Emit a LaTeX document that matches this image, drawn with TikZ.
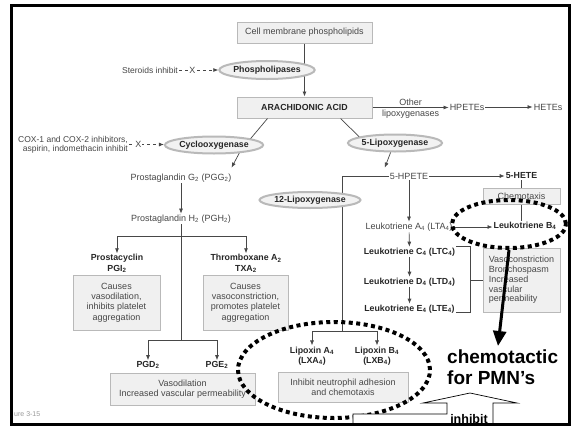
\documentclass[tikz,border=0pt]{standalone}
\usepackage{fontspec}
\setmainfont{Liberation Sans}
\usetikzlibrary{shapes.geometric,arrows.meta}
\newcommand{\sbs}[1]{\textsubscript{#1}}
\begin{document}
\begin{tikzpicture}[x=1pt,y=-1pt,
  txt/.style={font=\fontsize{9}{10}\selectfont, text=black!72, inner sep=1pt, align=center},
  btxt/.style={font=\fontsize{8.8}{10.5}\selectfont\bfseries, text=black!85, inner sep=1pt, align=center},
  box/.style={draw=gray!55, fill=gray!12, line width=1pt, inner sep=1pt, align=center, font=\fontsize{9}{10.3}\selectfont, text=black!72},
  enz/.style={ellipse, draw=gray!55, fill=gray!10, line width=2pt, inner sep=0pt, font=\fontsize{8.8}{10}\selectfont\bfseries, text=black!85},
  con/.style={draw=black!72, line width=0.7pt},
  arr/.style={con, -{Latex[length=5pt,width=4pt]}},
  xmark/.style={fill=white, inner sep=0.3pt, font=\fontsize{9}{10}\selectfont, text=black!72},
  ring/.style={ellipse, draw=black, line width=4pt, dash pattern=on 4pt off 3.5pt, inner sep=0pt},
]
\useasboundingbox (0,0) rectangle (571,426);
\fill[white] (0,0) rectangle (571,426);

% ---- top chain
\node[box, minimum width=135, minimum height=21] (cell) at (304.5,32.5) {Cell membrane phospholipids};
\node[box, minimum width=135, minimum height=21, font=\fontsize{8.8}{10}\selectfont\bfseries, text=black!85] (aa) at (304.5,107.5) {ARACHIDONIC ACID};
\draw[arr] (cell) -- (aa);
\node[enz, minimum width=90, minimum height=18] (phos) at (267,70) {Phospholipases};
\node[txt, font=\fontsize{8.5}{10}\selectfont] (ster) at (150,70) {Steroids inhibit};
\draw[arr, dashed] (ster.east) -- node[xmark, pos=0.34] (x1) {X} (ster.east -| phos.west);

% ---- other lipoxygenases
\node[txt] (hpetes) at (467,107) {HPETEs};
\node[txt] (hetes) at (548,107) {HETEs};
\draw[arr] (aa.east) -- node[txt, above=1pt] (oth) {Other} node[txt, below=1pt] (lipo) {lipoxygenases} (aa.east -| hpetes.west);
\draw[arr] (hpetes) -- (hetes);

% ---- cyclooxygenase branch
\node[enz, minimum width=88, minimum height=17] (cox) at (214,145) {Cyclooxygenase};
\draw[con] ([xshift=31pt]aa.south west) -- (cox.10);
\node[txt, align=right, font=\fontsize{8.5}{8.8}\selectfont] (coxinh) at (73,144.5) {COX-1 and COX-2 inhibitors,\\aspirin, indomethacin inhibit};
\draw[arr, dashed] (coxinh.east) -- node[xmark, pos=0.27] (x2) {X} (coxinh.east -| cox.west);
\node[txt] (pgg2) at (181,178) {Prostaglandin G\sbs{2} (PGG\sbs{2})};
\node[txt] (pgh2) at (181,219) {Prostaglandin H\sbs{2} (PGH\sbs{2})};
\draw[arr] (cox.-18) -- ([xshift=-1pt,yshift=5pt]pgg2.north east);
\draw[arr] (pgg2) -- (pgh2);
\node[btxt] (pgi) at (117,263.5) {Prostacyclin\\PGI\sbs{2}};
\node[btxt] (txa) at (246,263.5) {Thromboxane A\sbs{2}\\TXA\sbs{2}};
\coordinate (j1) at (181,236);
\coordinate (j2) at (181,340);
\draw[con] (pgh2.south) -- (j2);
\draw[arr] (j1) -| (pgi.north);
\draw[arr] (j1) -| (txa.north);
\node[box, minimum width=87, minimum height=55] (b1) at (116.5,302.5) {Causes\\vasodilation,\\inhibits platelet\\aggregation};
\node[box, minimum width=85, minimum height=55] (b2) at (245.5,302.5) {Causes\\vasoconstriction,\\promotes platelet\\aggregation};
\node[btxt] (pgd) at (148,365) {PGD\sbs{2}};
\node[btxt] (pge) at (217,365) {PGE\sbs{2}};
\draw[arr] (j2) -| (pgd.north);
\draw[arr] (j2) -| (pge.north);
\node[box, minimum width=145, minimum height=32] (b3) at (182.5,389) {Vasodilation\\Increased vascular permeability};

% ---- 5-lipoxygenase branch
\node[enz, minimum width=86, minimum height=17] (lox5) at (395,143) {5-Lipoxygenase};
\draw[con] ([xshift=-32pt]aa.south east) -- (lox5.170);
\node[txt] (hpete5) at (409,176) {5-HPETE};
\node[btxt] (hete5) at (521.5,176) {5-HETE};
\draw[arr] (lox5.-115) -- ([xshift=-4pt,yshift=4pt]hpete5.north west);
\draw[arr] (hpete5) -- (hete5);
\node[box, minimum width=77, minimum height=16] (chemo) at (521.5,196) {Chemotaxis};
\node[btxt] (ltb4) at (525,226) {Leukotriene B\sbs{4}};
\draw[con] (hete5) -- (chemo);
\draw[con] (chemo.south) -- (chemo.south |- ltb4.north);
\node[txt] (lta4) at (409,227) {Leukotriene A\sbs{4} (LTA\sbs{4})};
\node[btxt] (ltc4) at (409.5,252) {Leukotriene C\sbs{4} (LTC\sbs{4})};
\node[btxt] (ltd4) at (409.5,282) {Leukotriene D\sbs{4} (LTD\sbs{4})};
\node[btxt] (lte4) at (409.5,309) {Leukotriene E\sbs{4} (LTE\sbs{4})};
\draw[arr] (hpete5) -- (lta4);
\draw[arr] (lta4.east) -- (lta4.east -| ltb4.west);
\draw[arr] (lta4) -- (ltc4);
\draw[arr] (ltc4) -- (ltd4);
\draw[arr] (ltd4) -- (lte4);
\node[box, minimum width=77, minimum height=64, align=left, font=\fontsize{9}{9.7}\selectfont] (vbox) at (521.5,280) {Vasoconstriction\\Bronchospasm\\Increased\\vascular\\permeability};
\coordinate (br1) at (470,247);
\coordinate (br2) at (470,312);
\draw[con] (ltc4.north east) -| (br2) -- (lte4.south east |- br2);
\draw[con] (vbox.west -| br2) -- (vbox.west);

% ---- 12-lipoxygenase branch
\coordinate (k1) at (342,176);
\coordinate (k2) at (342,331);
\draw[con] (hpete5.west) -- (k1) -- (k2);
\node[enz, minimum width=95, minimum height=16] (lox12) at (310,200) {12-Lipoxygenase};
\node[btxt] (lxa) at (312,356) {Lipoxin A\sbs{4}\\(LXA\sbs{4})};
\node[btxt] (lxb) at (377,356) {Lipoxin B\sbs{4}\\(LXB\sbs{4})};
\draw[arr] (k2) -| (lxa.north);
\draw[arr] (k2) -| (lxb.north);
\node[box, minimum width=130, minimum height=30] (b4) at (343,387) {Inhibit neutrophil adhesion\\and chemotaxis};

% ---- annotations
\node[ring, minimum width=114, minimum height=48] (ring1) at (509,224) {};
\node[ring, minimum width=192, minimum height=96] (ring2) at (334,370) {};
\coordinate (tipA) at (498,346);
\draw[line width=3pt, -{Triangle[length=15pt,width=13pt]}] (ring1.south) -- (tipA);
\node[font=\fontsize{19}{21}\selectfont\bfseries, align=left, inner sep=0pt, anchor=north west] (chem) at (447,350) {chemotactic\\for PMN’s};
\draw[fill=white, line width=0.7pt] (353,427) -- (353,414) -- (447,414) -- (447,403) -- (423,403) -- (470,393) -- (517,403) -- (493,403) -- (493,427);
\node[font=\fontsize{12.5}{14}\selectfont\bfseries, anchor=base, inner sep=0pt] (inh) at (469,423.5) {inhibit};
\node[font=\fontsize{7}{8}\selectfont, text=black!40, anchor=west, inner sep=0pt] (fig) at (14,414) {ure 3-15};

% ---- frame
\draw[line width=3pt] (11.5,5) rectangle (569,424);
\end{tikzpicture}
\end{document}
